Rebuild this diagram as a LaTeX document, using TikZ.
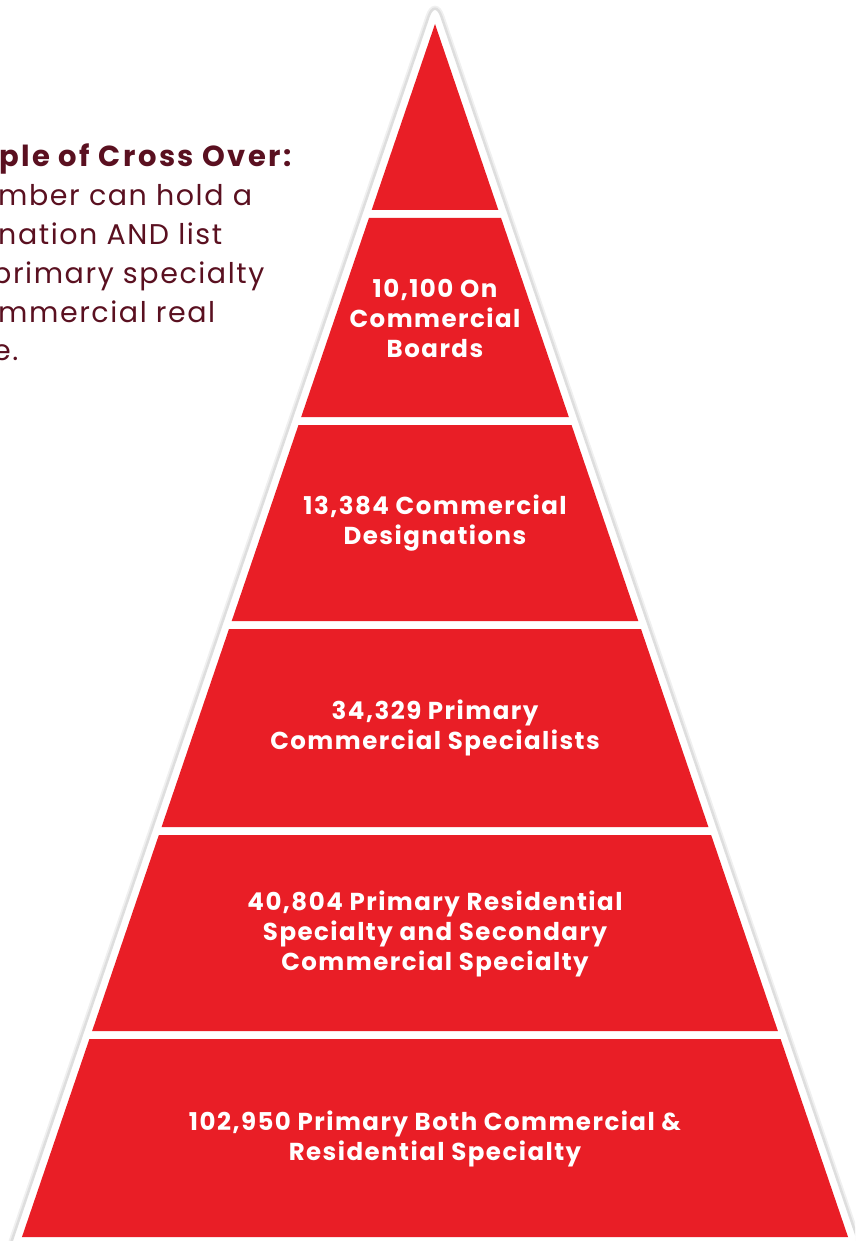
\documentclass[tikz,border=0pt]{standalone}
\usepackage{fontspec}
\setmainfont{Poppins}
\newfontfamily\tierfont{Poppins}[LetterSpace=6]
\newfontfamily\notefont{Poppins}[LetterSpace=5.5]
\newfontfamily\noteheadfont{Poppins}[LetterSpace=8.5]
\definecolor{pyrred}{HTML}{E91E26}
\definecolor{notecol}{HTML}{5A1020}
\newcommand{\pyrslope}{0.3405}
\begin{document}
\begin{tikzpicture}[x=1pt,y=-1pt,
  layerfill/.style={fill=pyrred},
  tierlabel/.style={text=white, font=\fontsize{24.5}{30}\tierfont\bfseries, align=center, inner sep=0pt},
  noteline/.style={text=notecol, anchor=base west, inner sep=0pt, font=\fontsize{28.5}{30}\notefont},
  notehead/.style={noteline, font=\fontsize{29}{30}\noteheadfont\bfseries}]
\useasboundingbox (0,0) rectangle (855,1241);
\clip (0,0) rectangle (855,1241);

% white frame behind the pyramid, with a soft grey rim
\path[draw=black!6, line width=6, rounded corners=20]
  (435,-2.4) -- (-5,1290) -- (875,1290) -- cycle;
\path[fill=white, draw=black!13, line width=2.5, rounded corners=20]
  (435,-2.4) -- (-5,1290) -- (875,1290) -- cycle;

% red tiers, separated by white gaps
\foreach \ya/\yb in {218/417, 425/621, 629/827, 835/1031, 1039/1237}{
  \fill[layerfill] ({435-\pyrslope*(\ya-24)},\ya) -- ({435+\pyrslope*(\ya-24)},\ya)
    -- ({435+\pyrslope*(\yb-24)},\yb) -- ({435-\pyrslope*(\yb-24)},\yb) -- cycle;
}
\fill[layerfill] (435,24) -- ({435+\pyrslope*186},210) -- ({435-\pyrslope*186},210) -- cycle;

% tier labels
\node[tierlabel] (t2) at (435,318) {10,100 On\\Commercial\\Boards};
\node[tierlabel] (t3) at (435,523) {13,384 Commercial\\Designations};
\node[tierlabel] (t4) at (435,728) {34,329 Primary\\Commercial Specialists};
\node[tierlabel] (t5) at (435,934) {40,804 Primary Residential\\Specialty and Secondary\\Commercial Specialty};
\node[tierlabel] (t6) at (435,1139) {102,950 Primary Both Commercial \&\\Residential Specialty};

% side note
\node[notehead] (n1) at (-1,166.7) {ple of Cross Over:};
\node[noteline] (n2) at (-2,205.5) {mber can hold a};
\node[noteline] (n3) at (-2,244.3) {nation AND list};
\node[noteline] (n4) at (-8,283) {primary specialty};
\node[noteline] (n5) at (-2,322) {mmercial real};
\node[noteline] (n6) at (-7,360.5) {e.};
\end{tikzpicture}
\end{document}
